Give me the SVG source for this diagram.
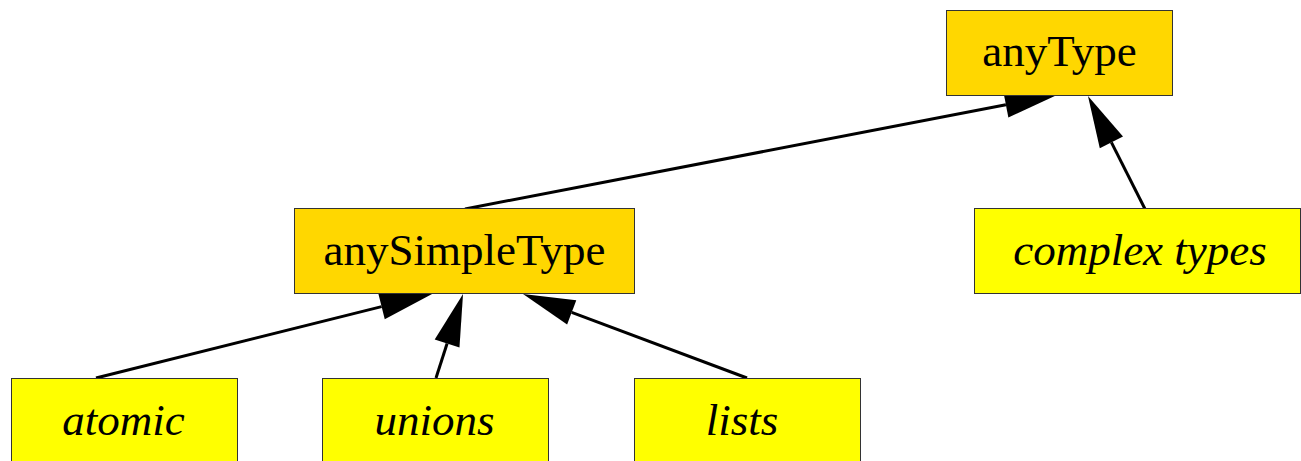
<svg xmlns="http://www.w3.org/2000/svg" width="1301" height="461" viewBox="0 0 1301 461">
<style>
  .box { stroke: #333; stroke-width: 1; }
  .gold { fill: #FFD700; }
  .yel { fill: #FFFF00; }
  .lbl { font-family: "Liberation Serif", "Times New Roman", serif; font-size: 45px; fill: #000; text-anchor: middle; }
  .it { font-style: italic; }
  .edge { stroke: #000; stroke-width: 3; fill: none; marker-end: url(#ah); }
</style>
<defs>
  <marker id="ah" markerUnits="userSpaceOnUse" markerWidth="60" markerHeight="30" refX="0" refY="13" orient="auto" overflow="visible">
    <path d="M0,0 L52,13 L0,26 z" fill="#000"/>
  </marker>
</defs>
<rect width="1301" height="461" fill="#fff"/>
<g id="connectors">
  <path class="edge" d="M465,209 L1005.9,104.8"/>
  <path class="edge" d="M1145,209 L1111.4,142.4"/>
  <path class="edge" d="M96,378 L381.6,306.6"/>
  <path class="edge" d="M436,378 L447.1,343.5"/>
  <path class="edge" d="M747,378 L571.7,312.3"/>
</g>
<g id="anyType">
  <rect class="box gold" x="946.5" y="10.5" width="226" height="85"/>
  <text class="lbl" x="1059.5" y="66">anyType</text>
</g>
<g id="anySimpleType">
  <rect class="box gold" x="294.5" y="208.5" width="340" height="85"/>
  <text class="lbl" x="464.5" y="265">anySimpleType</text>
</g>
<g id="complexTypes">
  <rect class="box yel" x="974.5" y="208.5" width="326" height="85"/>
  <text class="lbl it" x="1140" y="265">complex types</text>
</g>
<g id="atomic">
  <rect class="box yel" x="11.5" y="378.5" width="226" height="85"/>
  <text class="lbl it" x="123.5" y="435">atomic</text>
</g>
<g id="unions">
  <rect class="box yel" x="322.5" y="378.5" width="226" height="85"/>
  <text class="lbl it" x="434.5" y="435">unions</text>
</g>
<g id="lists">
  <rect class="box yel" x="634.5" y="378.5" width="226" height="85"/>
  <text class="lbl it" x="742" y="435">lists</text>
</g>
</svg>
